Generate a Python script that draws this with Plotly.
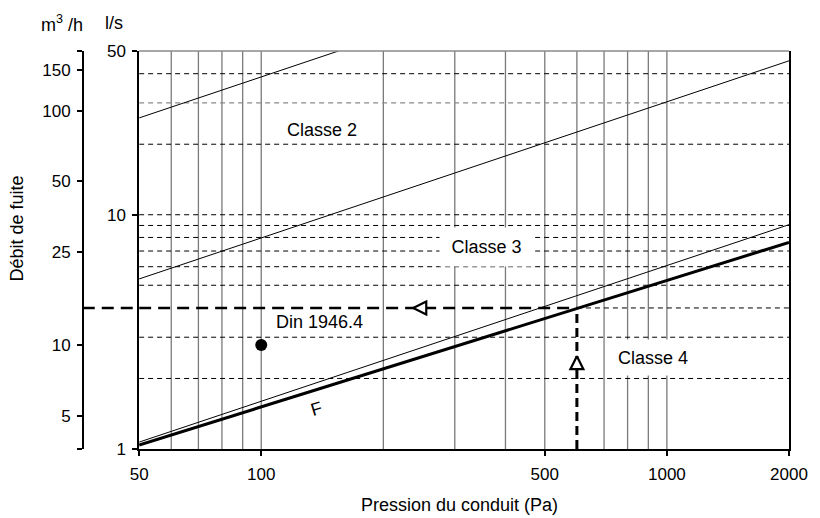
import numpy as np
import plotly.graph_objects as go

# ---------------- data ----------------
p_min, p_max = 50, 2000          # Pa
q_min, q_max = 1, 50             # l/s
m3h_per_ls = 3.6

pressure_grid = [60, 70, 80, 90, 100, 200, 300, 400, 500, 600, 700, 800, 900, 1000]
flow_grid_black = [2, 3, 4, 5, 6, 7, 8, 9, 10, 20, 40]
flow_grid_gray = [30]

x_tickvals = [50, 100, 500, 1000, 2000]
y_tickvals_ls = [1, 10, 50]
y_tickvals_m3h = [5, 10, 25, 50, 100, 150]
y_end_ticks_m3h = [3.6, 180]

# class limit lines (pressure Pa, flow l/s)
classe2_upper_p = [50, 155]
classe2_upper_q = [25.9, 50]
classe2_lower_p = [50, 2000]
classe2_lower_q = [5.32, 45.4]
classe3_p = [50, 2000]
classe3_q = [1.07, 9.07]
f_line_p = [50, 2000]
f_line_q = [1.04, 7.62]

# reading example
reading_p = 600
reading_q = 4
arrow_left_p, arrow_left_q = 237, 4
arrow_up_p, arrow_up_q = 600, 2.49

# DIN point (m3/h axis)
din_p = [100]
din_m3h = [10]

# labels: (text, pressure, flow)
class_labels = [("Classe 2", 141, 23.0), ("Classe 3", 359, 7.31), ("Classe 4", 922, 2.46)]
din_label = ("Din 1946.4", 107.3, 3.50)
f_label = ("F", 136.6, 1.48)

# ---------------- figure ----------------
FONT = "Liberation Sans, Arial, sans-serif"
fig = go.Figure()

# vertical grid lines
vx, vy = [], []
for p in pressure_grid:
    y0 = reading_q if p == reading_p else q_min
    vx += [p, p, None]
    vy += [y0, q_max, None]
fig.add_trace(go.Scatter(x=vx, y=vy, mode="lines", line=dict(color="#7a7a7a", width=1.3),
                         hoverinfo="skip"))

# horizontal dashed grid lines
hx, hy = [], []
for q in flow_grid_black:
    x0 = reading_p if q == reading_q else p_min
    hx += [x0, p_max, None]
    hy += [q, q, None]
fig.add_trace(go.Scatter(x=hx, y=hy, mode="lines",
                         line=dict(color="black", width=1, dash="5px,4px"), hoverinfo="skip"))
gx, gy = [], []
for q in flow_grid_gray:
    gx += [p_min, p_max, None]
    gy += [q, q, None]
fig.add_trace(go.Scatter(x=gx, y=gy, mode="lines",
                         line=dict(color="#8a8a8a", width=1.3, dash="5px,4px"), hoverinfo="skip"))

# class lines
for px_, qy_, w in [(classe2_upper_p, classe2_upper_q, 1),
                    (classe2_lower_p, classe2_lower_q, 1),
                    (classe3_p, classe3_q, 1),
                    (f_line_p, f_line_q, 3)]:
    fig.add_trace(go.Scatter(x=px_, y=qy_, mode="lines", line=dict(color="black", width=w),
                             hoverinfo="skip"))

# reading lines
fig.add_trace(go.Scatter(x=[p_min, reading_p], y=[reading_q, reading_q], mode="lines",
                         line=dict(color="black", width=2.5, dash="12px,7px"), hoverinfo="skip"))
fig.add_trace(go.Scatter(x=[reading_p, reading_p], y=[q_min, reading_q], mode="lines",
                         line=dict(color="black", width=3, dash="9px,5px"), hoverinfo="skip"))

# arrows
fig.add_trace(go.Scatter(x=[arrow_left_p], y=[arrow_left_q], mode="markers",
                         marker=dict(symbol="arrow-left", size=13, color="white",
                                     line=dict(color="black", width=2.2)), hoverinfo="skip"))
fig.add_trace(go.Scatter(x=[arrow_up_p], y=[arrow_up_q], mode="markers",
                         marker=dict(symbol="arrow-up", size=13, color="white",
                                     line=dict(color="black", width=2.2)), hoverinfo="skip"))

# DIN point on m3/h axis
fig.add_trace(go.Scatter(x=din_p, y=din_m3h, yaxis="y2", mode="markers",
                         marker=dict(symbol="circle", size=12, color="black"), hoverinfo="skip"))

# ---------------- annotations ----------------
ann = []
boxes = {"Classe 2": None, "Classe 3": (93, 38), "Classe 4": (80, 35)}
for text, p, q in class_labels:
    a = dict(text=text, x=np.log10(p), y=np.log10(q), xref="x", yref="y", showarrow=False,
             font=dict(family=FONT, size=18, color="black"), xanchor="center", yanchor="middle")
    if boxes[text]:
        a.update(bgcolor="white", width=boxes[text][0], height=boxes[text][1], borderpad=0)
    ann.append(a)
ann.append(dict(text=din_label[0], x=np.log10(din_label[1]), y=np.log10(din_label[2]),
                xref="x", yref="y", showarrow=False, xanchor="left", yanchor="middle",
                font=dict(family=FONT, size=18, color="black")))
ann.append(dict(text=f_label[0], x=np.log10(f_label[1]), y=np.log10(f_label[2]),
                xref="x", yref="y", showarrow=False, textangle=-17,
                font=dict(family=FONT, size=18, color="black")))

# page body has an 8px margin: figure is 812x510 and margins shifted accordingly
ML, MR, MT, MB = 52, 23, 43, 69
PW = 812 - ML - MR   # 737
dom0 = (140 - 60) / PW
ax2pos = (83 - 60) / PW
ann.append(dict(text="m<sup>3</sup> /h", x=0.0034, y=1.07, xref="paper", yref="paper",
                showarrow=False, xanchor="center", yanchor="middle",
                font=dict(family=FONT, size=18, color="black")))
ann.append(dict(text="l/s", x=0.0746, y=1.07, xref="paper", yref="paper",
                showarrow=False, xanchor="center", yanchor="middle",
                font=dict(family=FONT, size=18, color="black")))
ann.append(dict(text="Débit de fuite", x=-0.0583, y=0.555, xref="paper", yref="paper",
                showarrow=False, textangle=-90, xanchor="center", yanchor="middle",
                font=dict(family=FONT, size=18, color="black")))
ann.append(dict(text="Pression du conduit (Pa)", x=0.548, y=-0.14, xref="paper", yref="paper",
                showarrow=False, xanchor="center", yanchor="middle",
                font=dict(family=FONT, size=18, color="black")))

shapes = [
    # gray top border
    dict(type="line", xref="paper", yref="paper", x0=dom0, x1=1, y0=1, y1=1,
         line=dict(color="#8a8a8a", width=1.5)),
    # reading line extension to m3/h axis
    dict(type="line", xref="paper", yref="y", x0=ax2pos, x1=dom0, y0=reading_q, y1=reading_q,
         line=dict(color="black", width=2.5, dash="12px,7px")),
]

axis_common = dict(showgrid=False, zeroline=False, showline=True, linecolor="black", linewidth=1.5,
                   ticks="outside", ticklen=5, tickwidth=1.5, tickcolor="black",
                   tickfont=dict(family=FONT, size=17, color="black"))

fig.update_layout(
    width=812, height=510,
    margin=dict(l=ML, r=MR, t=MT, b=MB),
    plot_bgcolor="white", paper_bgcolor="white",
    showlegend=False,
    font=dict(family=FONT, size=17, color="black"),
    xaxis=dict(type="log", range=[np.log10(p_min), np.log10(p_max)], domain=[dom0, 1],
               tickvals=x_tickvals, ticktext=[str(v) for v in x_tickvals],
               ticklabelstandoff=4, **axis_common),
    yaxis=dict(type="log", range=[np.log10(q_min), np.log10(q_max)],
               tickvals=y_tickvals_ls, ticktext=[str(v) for v in y_tickvals_ls],
               mirror=True, ticklabelstandoff=3, **axis_common),
    yaxis2=dict(type="log", range=[np.log10(q_min * m3h_per_ls), np.log10(q_max * m3h_per_ls)],
                overlaying="y", anchor="free", position=ax2pos, side="left",
                tickvals=y_tickvals_m3h, ticktext=[str(v) for v in y_tickvals_m3h],
                minor=dict(tickmode="array", tickvals=y_end_ticks_m3h, ticks="outside",
                           ticklen=5, tickwidth=1.5, tickcolor="black", showgrid=False),
                ticklabelstandoff=3, **axis_common),
    annotations=ann,
    shapes=shapes,
)

fig.write_html("out.html")
